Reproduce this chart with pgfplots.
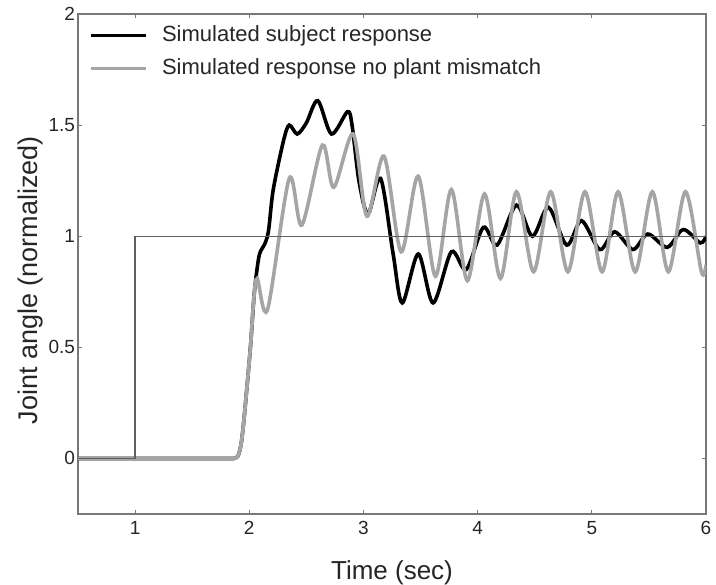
\documentclass[border=0pt]{standalone}
\usepackage{fontspec}
\setmainfont{Liberation Sans}
\usepackage{pgfplots}
\pgfplotsset{compat=1.18}
\definecolor{simgray}{RGB}{165,165,165}
\definecolor{axgray}{RGB}{120,120,120}
\definecolor{refgray}{RGB}{95,95,95}
\begin{document}
\begin{tikzpicture}
\useasboundingbox (-39pt,-35pt) rectangle (319pt,257pt);
\begin{axis}[
  scale only axis,
  width=314pt, height=250pt,
  xmin=0.5, xmax=6, ymin=-0.25, ymax=2,
  xtick={1,2,3,4,5,6}, ytick={0,0.5,1,1.5,2},
  yticklabels={0,0.5,1,1.5,2},
  xticklabels={1,2,3,4,5,6},
  tick align=inside,
  major tick length=2pt,
  axis line style={axgray, line width=0.6pt},
  tick style={axgray, line width=0.5pt},
  tick label style={font=\fontsize{9.5}{11}\selectfont, text=black!85},
  yticklabel style={xshift=2pt},
  xlabel={Time (sec)},
  ylabel={Joint angle (normalized)},
  label style={text=black!85},
  xlabel style={font=\fontsize{13}{15}\selectfont, yshift=-6pt},
  ylabel style={font=\fontsize{13.5}{15}\selectfont, yshift=-4pt, xshift=-8pt},
  legend style={draw=none, fill=none, at={(0.008,0.993)}, anchor=north west,
    font=\fontsize{11}{13}\selectfont, text=black!85, row sep=3pt, column sep=5pt},
  legend cell align=left,
  legend image code/.code={\draw[#1] (0pt,0pt) -- (27.5pt,0pt);},
  clip=true,
]
\addplot[black, line width=1.8pt, smooth, tension=0.5] coordinates {
(0.5,0) (1.2,0) (1.80,0) (1.86,0) (1.90,0.01) (1.93,0.07) (1.96,0.21) (2.01,0.50) (2.04,0.72)
(2.06,0.82) (2.09,0.92) (2.14,0.97) (2.17,1.03) (2.21,1.21) (2.30,1.43)
(2.35,1.50) (2.42,1.46) (2.50,1.51) (2.60,1.61) (2.72,1.46) (2.86,1.56)
(2.90,1.50) (2.96,1.25) (3.04,1.10) (3.15,1.26) (3.26,0.92) (3.34,0.70)
(3.48,0.92) (3.61,0.70) (3.77,0.93) (3.90,0.85) (4.05,1.04) (4.17,0.96)
(4.34,1.14) (4.48,1.00) (4.62,1.13) (4.78,0.96) (4.91,1.07) (5.07,0.94)
(5.20,1.02) (5.36,0.94) (5.49,1.01) (5.66,0.95) (5.80,1.03) (5.95,0.97)
(6.0,1.0)
};
\addlegendentry{Simulated subject response}
\addplot[simgray, line width=1.8pt, smooth, tension=0.5] coordinates {
(0.5,0) (1.2,0) (1.80,0) (1.86,0) (1.90,0.01) (1.93,0.07) (1.96,0.21) (2.01,0.50) (2.04,0.72)
(2.07,0.81) (2.16,0.67) (2.35,1.26) (2.46,1.05) (2.64,1.41) (2.74,1.22)
(2.91,1.46) (3.03,1.09) (3.18,1.36) (3.33,0.93) (3.48,1.27) (3.63,0.82)
(3.77,1.21) (3.91,0.80) (4.06,1.19) (4.20,0.81) (4.34,1.20) (4.49,0.84)
(4.64,1.20) (4.79,0.84) (4.94,1.20) (5.09,0.84) (5.23,1.20) (5.38,0.84)
(5.53,1.20) (5.67,0.84) (5.82,1.20) (5.96,0.84) (6.0,0.87)
};
\addlegendentry{Simulated response no plant mismatch}
\addplot[refgray, line width=0.6pt, forget plot] coordinates {
(0.5,0) (1,0) (1,1) (6,1)
};
\end{axis}
\end{tikzpicture}
\end{document}
